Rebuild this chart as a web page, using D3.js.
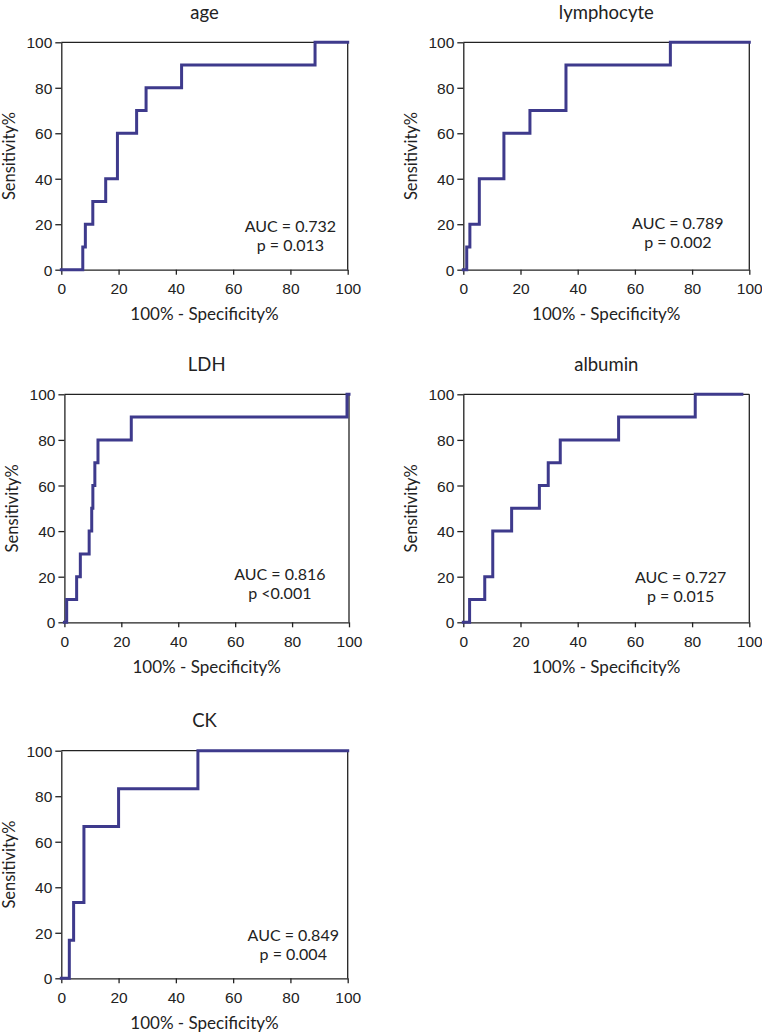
<!DOCTYPE html>
<html><head><meta charset="utf-8">
<script src="https://cdn.jsdelivr.net/npm/d3@7"></script>
<style>html,body{margin:0;padding:0;background:#fff}svg{display:block}</style>
</head><body>
<svg id="chart" width="762" height="1033"></svg>
<script>
// ---- data ----
const titles = ["age", "lymphocyte", "LDH", "albumin", "CK"];
const ageX = [0, 7.5, 8.4, 11.0, 15.5, 19.6, 26.3, 29.6, 42.0, 88.6, 100];
const ageY = [0, 10, 20, 30, 40, 60, 70, 80, 90, 100, 100];
const lymphX = [0, 1.2, 2.3, 5.6, 14.2, 23.3, 35.9, 72.4, 100];
const lymphY = [0, 10, 20, 40, 60, 70, 90, 100, 100];
const ldhX = [0, 0.8, 4.3, 5.6, 8.7, 9.6, 10.0, 10.7, 11.8, 23.5, 99.3, 100];
const ldhY = [0, 10, 20, 30, 40, 50, 60, 70, 80, 90, 100, 100];
const albX = [0, 2.2, 7.5, 10.3, 16.9, 26.6, 29.7, 33.9, 54.3, 81.1, 97.4];
const albY = [0, 10, 20, 40, 50, 60, 70, 80, 90, 100, 100];
const ckX = [0, 2.8, 4.3, 7.9, 20.0, 47.7, 100];
const ckY = [0, 16.7, 33.3, 66.7, 83.3, 100, 100];
const aucLabels = ["AUC = 0.732", "AUC = 0.789", "AUC = 0.816", "AUC = 0.727", "AUC = 0.849"];
const pLabels = ["p = 0.013", "p = 0.002", "p <0.001", "p = 0.015", "p = 0.004"];
const tickValues = [0, 20, 40, 60, 80, 100];
const xTitle = "100% - Specificity%";
const yTitle = "Sensitivity%";

// ---- layout (not data) ----
const layout = [
  {left: 61.3, top: 42.3, w: 286.4, h: 227.4, ax: 80, ay: 16.7},
  {left: 463.3, top: 42.3, w: 286, h: 227.4, ax: 75, ay: 18},
  {left: 64.4, top: 394.3, w: 284.6, h: 228, ax: 75.7, ay: 18.7},
  {left: 463.3, top: 394.3, w: 286, h: 228, ax: 76, ay: 17.4},
  {left: 61.3, top: 750.7, w: 286.4, h: 227.6, ax: 81, ay: 16.5}
];
const series = [[ageX, ageY], [lymphX, lymphY], [ldhX, ldhY], [albX, albY], [ckX, ckY]];

const svg = d3.select("#chart");
const lineColor = "#3e3a8c";
const axisColor = "#222";
const textFont = "Lato, 'Open Sans', sans-serif";
const tickFont = "'Liberation Sans', Arial, sans-serif";

titles.forEach((t, i) => {
  const L = layout[i];
  const g = svg.append("g").attr("transform", `translate(${L.left},${L.top})`);
  const x = d3.scaleLinear().domain([0, 100]).range([0, L.w]);
  const y = d3.scaleLinear().domain([0, 100]).range([L.h, 0]);

  // frame top/right
  g.append("line").attr("x1", 0).attr("x2", L.w).attr("y1", 0).attr("y2", 0)
    .attr("stroke", axisColor).attr("stroke-width", 1.3);
  g.append("line").attr("x1", L.w).attr("x2", L.w).attr("y1", 0).attr("y2", L.h)
    .attr("stroke", axisColor).attr("stroke-width", 1.3);

  const xAxis = g.append("g").attr("transform", `translate(0,${L.h})`)
    .call(d3.axisBottom(x).tickValues(tickValues).tickSize(5).tickPadding(5).tickSizeOuter(0));
  const yAxis = g.append("g")
    .call(d3.axisLeft(y).tickValues(tickValues).tickSize(6).tickPadding(3).tickSizeOuter(0));
  [xAxis, yAxis].forEach(a => {
    a.select(".domain").attr("stroke", axisColor).attr("stroke-width", 1.3);
    a.selectAll(".tick line").attr("stroke", axisColor).attr("stroke-width", 1.3);
    a.selectAll(".tick text").attr("fill", "#222").style("font-family", tickFont).style("font-size", "15.5px");
  });
  xAxis.selectAll(".tick text").attr("dy", "0.95em");
  yAxis.selectAll(".tick text").attr("dy", "0.36em");

  // curve
  const [xs, ys] = series[i];
  const pts = xs.map((v, k) => [v, ys[k]]);
  g.append("path").datum(pts)
    .attr("d", d3.line().x(d => x(d[0])).y(d => y(d[1])).curve(d3.curveStepAfter))
    .attr("fill", "none").attr("stroke", lineColor).attr("stroke-width", 3)
    .attr("stroke-linejoin", "miter").attr("stroke-linecap", "square");

  // title
  g.append("text").attr("x", L.w / 2).attr("y", -23.5).attr("text-anchor", "middle")
    .style("font-family", textFont).style("font-size", "18.5px").attr("fill", "#222").text(t);
  // axis titles
  g.append("text").attr("x", L.w / 2).attr("y", L.h + 50.5).attr("text-anchor", "middle")
    .style("font-family", textFont).style("font-size", "17px").attr("fill", "#222").text(xTitle);
  g.append("text").attr("transform", `translate(-46.5,${L.h / 2}) rotate(-90)`).attr("text-anchor", "middle")
    .style("font-family", textFont).style("font-size", "16.5px").attr("fill", "#222").text(yTitle);
  // annotations
  g.append("text").attr("x", x(L.ax)).attr("y", y(L.ay)).attr("text-anchor", "middle")
    .style("font-family", textFont).style("font-size", "16px").attr("fill", "#222").text(aucLabels[i]);
  g.append("text").attr("x", x(L.ax)).attr("y", y(L.ay) + 19.5).attr("text-anchor", "middle")
    .style("font-family", textFont).style("font-size", "16px").attr("fill", "#222").text(pLabels[i]);
});
</script>
</body></html>
